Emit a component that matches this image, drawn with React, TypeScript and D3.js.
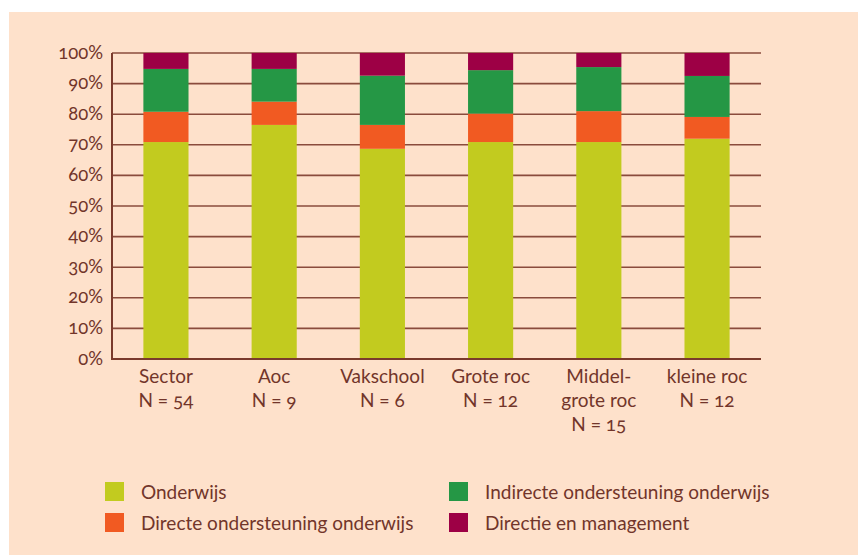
import React from 'react';
import * as d3 from 'd3';

const categories = ['Sector', 'Aoc', 'Vakschool', 'Grote roc', 'Middelgrote roc', 'kleine roc'];
const categoryLabels = [
  ['Sector', 'N = 54'],
  ['Aoc', 'N = 9'],
  ['Vakschool', 'N = 6'],
  ['Grote roc', 'N = 12'],
  ['Middel-', 'grote roc', 'N = 15'],
  ['kleine roc', 'N = 12'],
];
const seriesNames = [
  'Onderwijs',
  'Directe ondersteuning onderwijs',
  'Indirecte ondersteuning onderwijs',
  'Directie en management',
];
const onderwijs = [70.9, 76.5, 68.7, 70.9, 70.9, 72.0];
const directe = [9.9, 7.6, 7.8, 9.3, 10.1, 7.1];
const indirecte = [14.0, 10.7, 16.1, 14.2, 14.4, 13.4];
const directie = [5.2, 5.2, 7.4, 5.6, 4.6, 7.5];
const yTicks = [0, 10, 20, 30, 40, 50, 60, 70, 80, 90, 100];

const COLORS = ['#C2CB1F', '#F15A22', '#259745', '#9D0045'];
const TEXT = '#72352A';
const FONT = 'Lato, "Open Sans", sans-serif';

export default function App() {
  const width = 858;
  const height = 555;
  const margin = { left: 112, right: 97, top: 53, bottom: 196 };
  const innerW = width - margin.left - margin.right;
  const innerH = height - margin.top - margin.bottom;

  const rows = categories.map((c, i) => ({
    cat: c,
    [seriesNames[0]]: onderwijs[i],
    [seriesNames[1]]: directe[i],
    [seriesNames[2]]: indirecte[i],
    [seriesNames[3]]: directie[i],
  }));
  const stacked = d3.stack<any>().keys(seriesNames)(rows);

  const x = d3.scaleBand<string>().domain(categories).range([0, innerW]).paddingInner(0.583).paddingOuter(0.29);
  const y = d3.scaleLinear().domain([0, 100]).range([innerH, 0]);
  const color = d3.scaleOrdinal<string>().domain(seriesNames).range(COLORS);

  const legendPos = [
    { x: 105, y: 482 },
    { x: 105, y: 513 },
    { x: 449, y: 482 },
    { x: 449, y: 513 },
  ];

  return (
    <div style={{ position: 'fixed', left: 0, top: 0 }}>
      <svg width={width} height={height} style={{ display: 'block', fontFamily: FONT, fontVariantNumeric: 'oldstyle-nums' }}>
        <rect x={0} y={0} width={width} height={height} fill="#ffffff" />
        <rect x={9} y={12} width={width - 9} height={height - 12} fill="#FEE1CB" />
        <g transform={`translate(${margin.left},${margin.top})`}>
          {yTicks.map(t => (
            <g key={t}>
              <line x1={0} x2={innerW} y1={y(t)} y2={y(t)} stroke="#8A4B3C" strokeWidth={t === 0 ? 2.2 : 1.6} />
              <text x={-9} y={y(t)} dy="0.3em" textAnchor="end" fontSize={18.5} fill={TEXT}>{t}%</text>
            </g>
          ))}
          {stacked.map(s => (
            <g key={s.key} fill={color(s.key)}>
              {s.map((d, i) => (
                <rect key={i} x={x(categories[i])} width={x.bandwidth()} y={y(d[1])} height={y(d[0]) - y(d[1])} />
              ))}
            </g>
          ))}
          <line x1={0} x2={0} y1={0} y2={innerH + 1} stroke="#7A3A2C" strokeWidth={2} />
          <line x1={0} x2={innerW} y1={innerH} y2={innerH} stroke="#7A3A2C" strokeWidth={2.2} />
          {categories.map((c, i) => (
            <text key={c} x={(x(c) ?? 0) + x.bandwidth() / 2} y={innerH + 24} textAnchor="middle" fontSize={19} fill={TEXT}>
              {categoryLabels[i].map((l, j) => (
                <tspan key={j} x={(x(c) ?? 0) + x.bandwidth() / 2} dy={j === 0 ? 0 : 24}>{l}</tspan>
              ))}
            </text>
          ))}
        </g>
        {seriesNames.map((s, i) => (
          <g key={s} transform={`translate(${legendPos[i].x},${legendPos[i].y})`}>
            <rect width={19} height={19} fill={color(s)} />
            <text x={36} y={17} fontSize={19} fill={TEXT}>{s}</text>
          </g>
        ))}
      </svg>
    </div>
  );
}
